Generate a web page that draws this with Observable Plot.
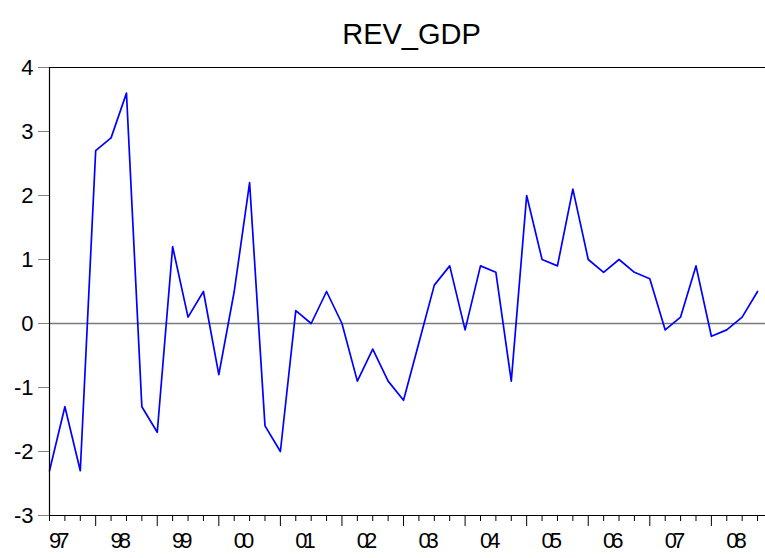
<!DOCTYPE html>
<html><head><meta charset="utf-8">
<script src="https://cdn.jsdelivr.net/npm/d3@7"></script>
<script src="https://cdn.jsdelivr.net/npm/@observablehq/plot@0.6"></script>
<style>
html,body{margin:0;padding:0;background:#fff;}
#chart svg{display:block;}
</style>
</head><body><div id="chart"></div>
<script>
const title = "REV_GDP";
const quarters = [
  "1997Q2","1997Q3","1997Q4",
  "1998Q1","1998Q2","1998Q3","1998Q4",
  "1999Q1","1999Q2","1999Q3","1999Q4",
  "2000Q1","2000Q2","2000Q3","2000Q4",
  "2001Q1","2001Q2","2001Q3","2001Q4",
  "2002Q1","2002Q2","2002Q3","2002Q4",
  "2003Q1","2003Q2","2003Q3","2003Q4",
  "2004Q1","2004Q2","2004Q3","2004Q4",
  "2005Q1","2005Q2","2005Q3","2005Q4",
  "2006Q1","2006Q2","2006Q3","2006Q4",
  "2007Q1","2007Q2","2007Q3","2007Q4",
  "2008Q1","2008Q2","2008Q3","2008Q4"
];
const values = [
  -2.3,-1.3,-2.3,
  2.7,2.9,3.6,-1.3,
  -1.7,1.2,0.1,0.5,
  -0.8,0.5,2.2,-1.6,
  -2.0,0.2,0.0,0.5,
  0.0,-0.9,-0.4,-0.9,
  -1.2,-0.3,0.6,0.9,
  -0.1,0.9,0.8,-0.9,
  2.0,1.0,0.9,2.1,
  1.0,0.8,1.0,0.8,
  0.7,-0.1,0.1,0.9,
  -0.2,-0.1,0.1,0.5
];
const yTicks = [-3,-2,-1,0,1,2,3,4];
const years = [1997,1998,1999,2000,2001,2002,2003,2004,2005,2006,2007,2008];
const yearLabels = ["97","98","99","00","01","02","03","04","05","06","07","08"];

const toT = q => +q.slice(0,4) + (+q.slice(5) - 1) / 4;
const data = quarters.map((q, i) => ({t: toT(q), v: values[i]}));
const quarterTs = quarters.map(toT);
const majorTicks = quarterTs.filter(t => Number.isInteger(t));
const minorTicks = quarterTs.filter(t => !Number.isInteger(t));
const labelPos = years.map(y => y + 0.375);

const font = "'Liberation Sans', Arial, sans-serif";
const xStart = quarterTs[0];
const xEnd = quarterTs[quarterTs.length - 1] + 0.129;

const chart = Plot.plot({
  width: 765,
  height: 558,
  marginLeft: 49,
  marginRight: 0,
  marginTop: 67,
  marginBottom: 43,
  style: {fontFamily: font, background: "#fff", color: "#000"},
  x: {domain: [xStart, xEnd], label: null},
  y: {domain: [-3, 4], label: null},
  marks: [
    Plot.ruleY([0], {stroke: "#7a7a7a", strokeWidth: 1.5}),
    Plot.line(data, {x: "t", y: "v", stroke: "#0000ff", strokeWidth: 1.7}),
    Plot.ruleY([4], {stroke: "#000", strokeWidth: 1.2}),
    Plot.ruleY([-3], {stroke: "#000", strokeWidth: 1.2}),
    Plot.ruleX([xStart], {stroke: "#000", strokeWidth: 1.2}),
    Plot.axisY({ticks: yTicks, tickSize: 11, tickFormat: () => "", stroke: "#808080", label: null}),
    Plot.axisY({ticks: yTicks, tickSize: 0, tickPadding: 16, fontSize: 22, fill: "#000", tickFormat: d => String(d), label: null}),
    Plot.axisX({ticks: minorTicks, tickSize: 6, tickFormat: () => "", stroke: "#000", label: null}),
    Plot.axisX({ticks: majorTicks, tickSize: 11, tickFormat: () => "", stroke: "#000", label: null}),
    Plot.axisX({ticks: labelPos, tickSize: 0, tickPadding: 17, fontSize: 22, fill: "#000", label: null,
      tickFormat: (d, i) => yearLabels[i]}),
    Plot.text([title], {frameAnchor: "top", dx: 4, dy: -44, fontSize: 29, fill: "#000", fontFamily: font})
  ]
});
d3.select(chart).selectAll("text")
  .filter(function() { return yearLabels.includes(this.textContent); })
  .attr("letter-spacing", "-4")
  .style("letter-spacing", "-4px");
document.getElementById("chart").append(chart);
</script>
</body></html>
